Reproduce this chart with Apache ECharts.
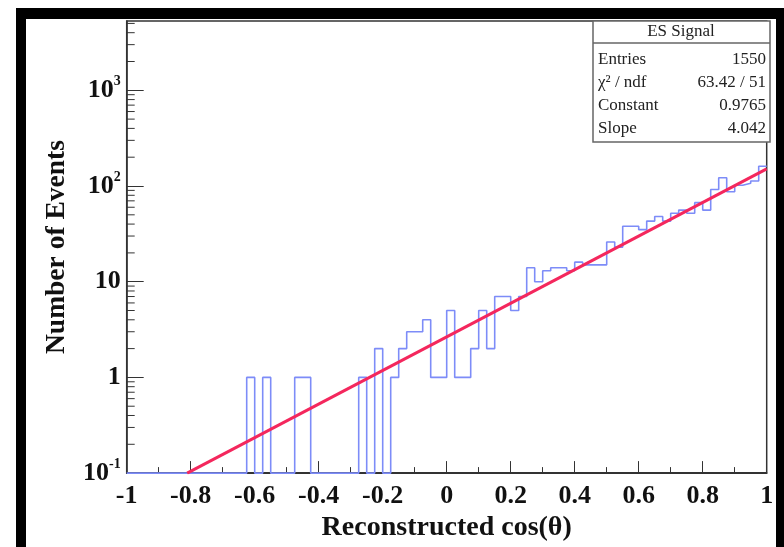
<!DOCTYPE html>
<html>
<head>
<meta charset="utf-8">
<script src="https://cdn.jsdelivr.net/npm/echarts@6/dist/echarts.min.js"></script>
<style>
  html, body { margin: 0; padding: 0; background: #fff; }
  #main { width: 784px; height: 547px; }
</style>
</head>
<body>
<div id="main"></div>
<script>
// histogram: 80 bins between -1 and 1 (counts per bin)
const xMin = -1;
const xMax = 1;
const binWidth = 0.025;
const counts = [
  0, 0, 0, 0, 0, 0, 0, 0, 0, 0,
  0, 0, 0, 0, 0, 1, 0, 1, 0, 0,
  0, 1, 1, 0, 0, 0, 0, 0, 0, 1,
  0, 2, 0, 1, 2, 3, 3, 4, 1, 1,
  5, 1, 1, 2, 5, 2, 7, 7, 5, 7,
  14, 10, 13, 14, 14, 13, 16, 15, 15, 15,
  26, 23, 38, 38, 35, 43, 48, 43, 52, 56,
  52, 67, 56, 92, 122, 87, 102, 107, 113, 161
];

// exponential fit, a straight line on the log axis (end points)
const fitX = [-0.811, 1];
const fitY = [0.1, 151];

// axis ticks
const yMin = 0.1;
const yMax = 5300;
const yMajorTicks = [0.1, 1, 10, 100, 1000];
const yMinorTicks = [
  0.2, 0.3, 0.4, 0.5, 0.6, 0.7, 0.8, 0.9,
  2, 3, 4, 5, 6, 7, 8, 9,
  20, 30, 40, 50, 60, 70, 80, 90,
  200, 300, 400, 500, 600, 700, 800, 900,
  2000, 3000, 4000, 5000
];

// stats box
const statsTitle = "ES Signal";
const statsLabels = ["Entries", "\u03c7\u00b2 / ndf", "Constant", "Slope"];
const statsValues = ["1550", "63.42 / 51", "0.9765", "4.042"];

const serif = "'Liberation Serif', 'Times New Roman', serif";

// step points: one per bin edge, empty bins sit on the axis floor like ROOT draws them
const histData = counts.map((c, i) => [xMin + i * binWidth, c > 0 ? c : yMin]);
histData.push([xMax, counts[counts.length - 1]]);

const myChart = echarts.init(document.getElementById("main"));

const statsRows = [];
statsLabels.forEach((lab, i) => {
  const y = 60 + i * 23;
  statsRows.push({
    type: "text", z: 11,
    style: { x: 598, y: y, text: lab, font: "17px " + serif, fill: "#222", verticalAlign: "middle" }
  });
  statsRows.push({
    type: "text", z: 11,
    style: { x: 766, y: y, text: statsValues[i], font: "17px " + serif, fill: "#222", align: "right", verticalAlign: "middle" }
  });
});

const option = {
  animation: false,
  backgroundColor: "#fff",
  grid: {
    left: 126.7, right: 17.3, top: 21, bottom: 69,
    show: true, borderColor: "#333", borderWidth: 1.5, containLabel: false
  },
  xAxis: {
    type: "value",
    min: xMin, max: xMax, interval: 0.2,
    name: "Reconstructed cos(\u03b8)",
    nameLocation: "middle", nameGap: 40,
    nameTextStyle: { fontFamily: serif, fontWeight: "bold", fontSize: 28, color: "#111" },
    axisLine: { onZero: false, lineStyle: { color: "#222", width: 1.5 } },
    axisTick: { inside: true, length: 12, lineStyle: { color: "#333" } },
    minorTick: { show: true, splitNumber: 2, length: 6, lineStyle: { color: "#333" } },
    splitLine: { show: false },
    axisLabel: {
      margin: 10, color: "#111", fontFamily: serif, fontWeight: "bold", fontSize: 26,
      formatter: v => String(Math.round(v * 10) / 10)
    }
  },
  yAxis: {
    type: "log", logBase: 10,
    min: yMin, max: yMax,
    name: "Number of Events",
    nameLocation: "middle", nameGap: 56,
    nameTextStyle: { fontFamily: serif, fontWeight: "bold", fontSize: 27.5, color: "#111" },
    axisLine: { onZero: false, lineStyle: { color: "#333", width: 1.5 } },
    axisTick: { inside: true, length: 17, customValues: yMajorTicks, lineStyle: { color: "#333" } },
    splitLine: { show: false },
    axisLabel: {
      margin: 6,
      customValues: yMajorTicks,
      formatter: v => {
        const e = Math.round(Math.log10(v));
        if (e === 0) return "{b|1}";
        if (e === 1) return "{b|10}";
        return "{b|10}{s|" + e + "}";
      },
      rich: {
        b: { fontFamily: serif, fontWeight: "bold", fontSize: 26, color: "#111", lineHeight: 32 },
        s: { fontFamily: serif, fontWeight: "bold", fontSize: 14, color: "#111", lineHeight: 14, verticalAlign: "top" }
      }
    }
  },
  series: [
    {
      name: "hist",
      type: "line",
      step: "end",
      data: histData,
      showSymbol: false,
      lineStyle: { color: "#7d8cf8", width: 1.6 },
      z: 3
    },
    {
      name: "fit",
      type: "line",
      data: fitX.map((x, i) => [x, fitY[i]]),
      showSymbol: false,
      lineStyle: { color: "#f4275d", width: 3 },
      z: 4
    },
    {
      name: "yMinorTicks",
      type: "custom",
      silent: true,
      data: yMinorTicks.map(v => [xMin, v]),
      renderItem: (params, api) => {
        const p = api.coord([api.value(0), api.value(1)]);
        return {
          type: "line",
          shape: { x1: p[0], y1: p[1], x2: p[0] + 8, y2: p[1] },
          style: { stroke: "#333", lineWidth: 1 }
        };
      },
      z: 2
    }
  ],
  graphic: [
    // outer black frame of the picture
    { type: "rect", shape: { x: 16, y: 8, width: 768, height: 11, r: [6, 0, 0, 0] }, style: { fill: "#000" } },
    { type: "rect", shape: { x: 16, y: 8, width: 10, height: 539 }, style: { fill: "#000" } },
    { type: "rect", shape: { x: 776, y: 8, width: 8, height: 539 }, style: { fill: "#000" } },
    // stats box
    { type: "rect", shape: { x: 593, y: 21, width: 177, height: 121 }, style: { fill: "#fff", stroke: "#666", lineWidth: 1.5 }, z: 10 },
    { type: "line", shape: { x1: 593, y1: 43, x2: 770, y2: 43 }, style: { stroke: "#666", lineWidth: 1.5 }, z: 10 },
    {
      type: "text", z: 11,
      style: { x: 681, y: 32, text: statsTitle, font: "17px " + serif, fill: "#222", align: "center", verticalAlign: "middle" }
    }
  ].concat(statsRows)
};

option && myChart.setOption(option);
</script>
</body>
</html>
